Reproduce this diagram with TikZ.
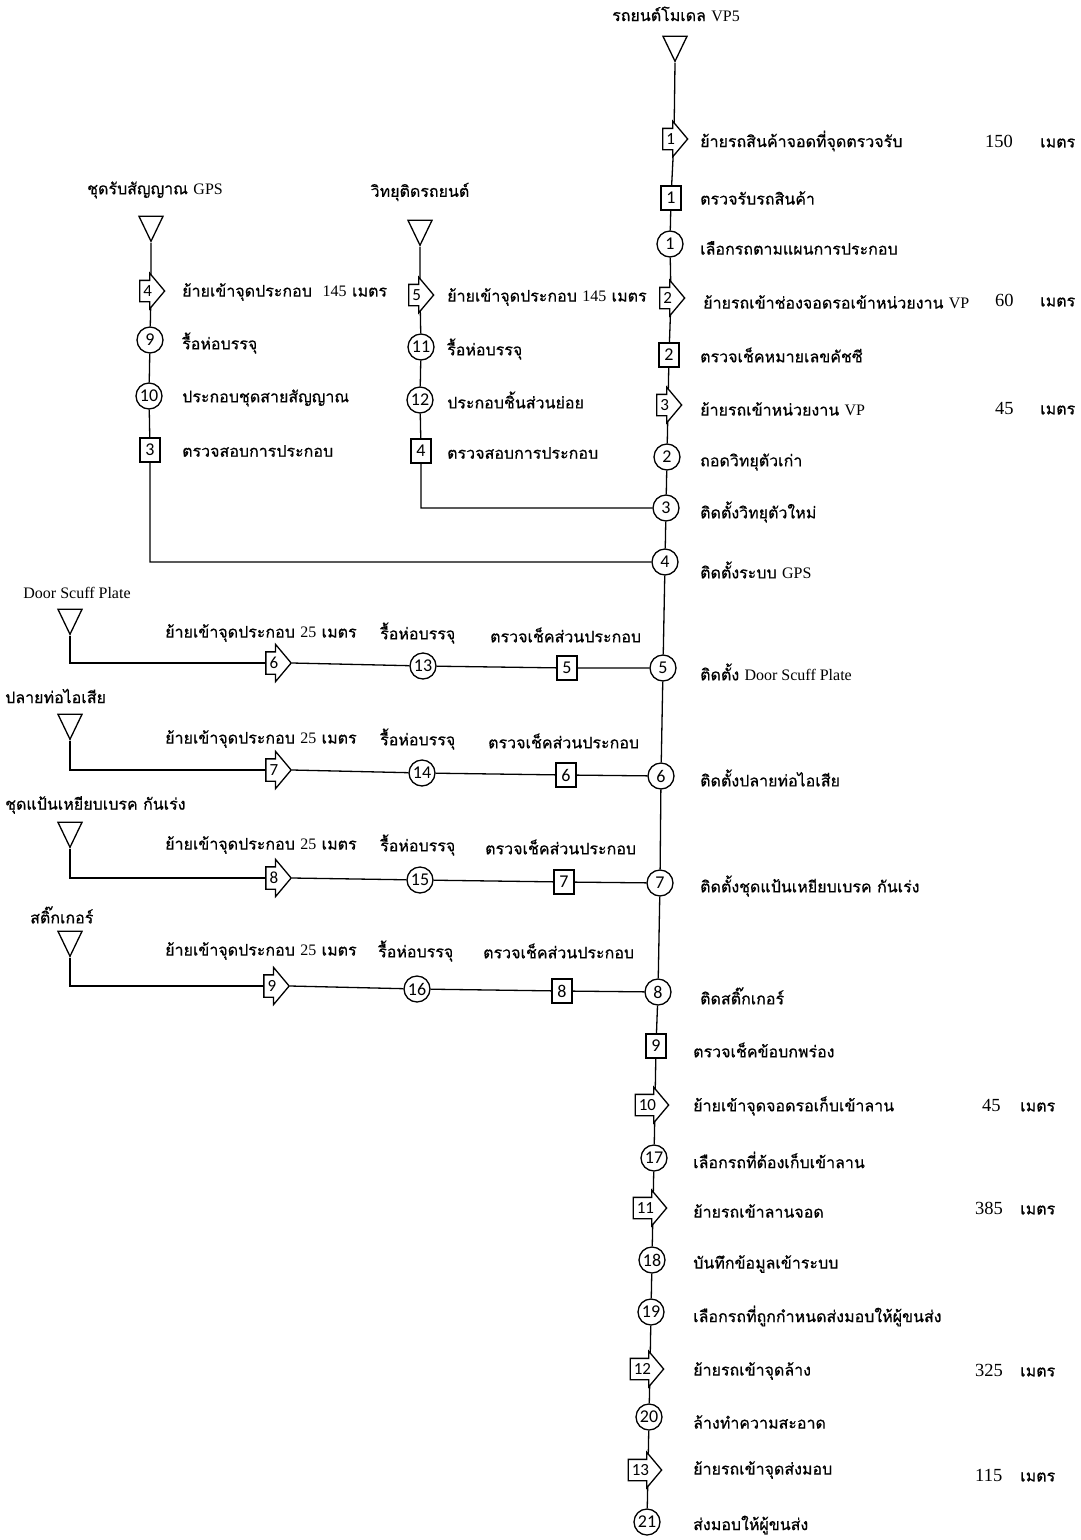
\documentclass[tikz,border=0pt]{standalone}
\usepackage{fontspec}
\setmainfont{Liberation Serif}
\newfontfamily\thfont[Script=Thai,FakeBold=0.6]{Loma}
\newfontfamily\numfont{Carlito}
\usetikzlibrary{shapes.geometric,shapes.arrows,backgrounds}
\newcommand\latn[1]{{\rmfamily #1}}
\begin{document}
\begin{tikzpicture}[x=1pt,y=-1pt,
  ln/.style={line width=1.3pt},
  ops/.style={circle, draw, fill=white, line width=1.3pt, minimum size=26pt, inner sep=0pt, font=\numfont\fontsize{18}{18}\selectfont},
  insp/.style={rectangle, draw, fill=white, line width=1.3pt, minimum width=20pt, minimum height=24pt, inner sep=0pt, font=\numfont\fontsize{18}{18}\selectfont},
  mv/.style={single arrow, draw, fill=white, line width=1.3pt, single arrow head extend=7pt, single arrow tip angle=100, single arrow head indent=0pt, inner xsep=3pt, inner ysep=1pt, text height=14pt, text depth=4pt, font=\numfont\fontsize{17}{17}\selectfont, anchor=tip},
  mvrow/.style={mv, text height=15pt, text depth=4pt, single arrow head extend=7.5pt},
  store/.style={isosceles triangle, isosceles triangle stretches, shape border rotate=-90, draw, line width=1.3pt, minimum width=24pt, minimum height=25pt, inner sep=0pt, anchor=apex},
  lbl/.style={anchor=west, inner sep=0pt, font=\thfont\fontsize{16}{18}\selectfont},
  ttl/.style={inner sep=0pt, font=\thfont\fontsize{16}{18}\selectfont},
  dist/.style={anchor=west, inner sep=0pt, font=\fontsize{18.5}{20}\selectfont},
]
\useasboundingbox (0,0) rectangle (1080,1540);

% ---------- main line ----------
\node[ttl] (vt) at (676,14) {รถยนต์โมเดล \latn{VP5}};
\node[store] (t0) at (675,63) {};
\coordinate (m1) at (674,139);  \node[mv] (a1) at (688.5,139) {1};
\node[insp] (b1) at (671,198) {1};
\node[ops]  (c1) at (670,244) {1};
\coordinate (m2) at (671,298);  \node[mv] (a2) at (685.5,298) {2};
\node[insp] (b2) at (669,355) {2};
\coordinate (m3) at (668,405);  \node[mv] (a3) at (682.5,405) {3};
\node[ops]  (c2) at (667,457) {2};
\node[ops]  (c3) at (666,508) {3};
\node[ops]  (c4) at (665,562) {4};
\node[ops]  (c5) at (663,668) {5};
\node[ops]  (c6) at (661,776) {6};
\node[ops]  (c7) at (660,883) {7};
\node[ops]  (c8) at (658,992) {8};
\node[insp] (b9) at (656,1046) {9};
\coordinate (m10) at (655,1105); \node[mv] (a10) at (669.5,1105) {10};
\node[ops]  (c17) at (654,1158) {17};
\coordinate (m11) at (653,1208); \node[mv] (a11) at (667.5,1208) {11};
\node[ops]  (c18) at (652,1260) {18};
\node[ops]  (c19) at (651,1312) {19};
\coordinate (m12) at (650,1369); \node[mv] (a12) at (664.5,1369) {12};
\node[ops]  (c20) at (649,1417) {20};
\coordinate (m13) at (648,1470); \node[mv] (a13) at (662.5,1470) {13};
\node[ops]  (c21) at (647,1522) {21};

\node[lbl] (la1) at (700,141) {ย้ายรถสินค้าจอดที่จุดตรวจรับ};
\node[lbl] (lb1) at (700,198) {ตรวจรับรถสินค้า};
\node[lbl] (lc1) at (700,248) {เลือกรถตามแผนการประกอบ};
\node[lbl] (la2) at (703,302) {ย้ายรถเข้าช่องจอดรอเข้าหน่วยงาน \latn{VP}};
\node[lbl] (lb2) at (700,355) {ตรวจเช็คหมายเลขคัชซี};
\node[lbl] (la3) at (700,409) {ย้ายรถเข้าหน่วยงาน \latn{VP}};
\node[lbl] (lc2) at (700,462) {ถอดวิทยุตัวเก่า};
\node[lbl] (lc3) at (700,512) {ติดตั้งวิทยุตัวใหม่};
\node[lbl] (lc4) at (700,570) {ติดตั้งระบบ \latn{GPS}};
\node[lbl] (lc5) at (700,672) {ติดตั้ง \latn{Door Scuff Plate}};
\node[lbl] (lc6) at (700,778) {ติดตั้งปลายท่อไอเสีย};
\node[lbl] (lc7) at (700,886) {ติดตั้งชุดแป้นเหยียบเบรค กันเร่ง};
\node[lbl] (lc8) at (700,996) {ติดสติ๊กเกอร์};
\node[lbl] (lb9) at (693,1050) {ตรวจเช็คข้อบกพร่อง};
\node[lbl] (la10) at (693,1106) {ย้ายเข้าจุดจอดรอเก็บเข้าลาน};
\node[lbl] (lc17) at (693,1160) {เลือกรถที่ต้องเก็บเข้าลาน};
\node[lbl] (la11) at (693,1211) {ย้ายรถเข้าลานจอด};
\node[lbl] (lc18) at (693,1264) {บันทึกข้อมูลเข้าระบบ};
\node[lbl] (lc19) at (693,1316) {เลือกรถที่ถูกกำหนดส่งมอบให้ผู้ขนส่ง};
\node[lbl] (la12) at (693,1371) {ย้ายรถเข้าจุดล้าง};
\node[lbl] (lc20) at (693,1422) {ล้างทำความสะอาด};
\node[lbl] (la13) at (693,1470) {ย้ายรถเข้าจุดส่งมอบ};
\node[lbl] (lc21) at (693,1525) {ส่งมอบให้ผู้ขนส่ง};

% distances
\node[dist] (d1) at (985,141) {150};  \node[lbl] (u1) at (1040,143) {เมตร};
\node[dist] (d2) at (995,300) {60};   \node[lbl] (u2) at (1040,302) {เมตร};
\node[dist] (d3) at (995,408) {45};   \node[lbl] (u3) at (1040,410) {เมตร};
\node[dist] (d4) at (982,1105) {45};  \node[lbl] (u4) at (1020,1107) {เมตร};
\node[dist] (d5) at (975,1208) {385}; \node[lbl] (u5) at (1020,1210) {เมตร};
\node[dist] (d6) at (975,1370) {325}; \node[lbl] (u6) at (1020,1372) {เมตร};
\node[dist] (d7) at (975,1475) {115}; \node[lbl] (u7) at (1020,1477) {เมตร};

% ---------- GPS receiver branch ----------
\node[ttl] (gt) at (155,190) {ชุดรับสัญญาณ \latn{GPS}};
\node[store] (tg) at (151,243) {};
\coordinate (m4) at (151,291); \node[mv] (a4) at (165.5,291) {4};
\node[ops]  (c9)  at (150,340) {9};
\node[ops]  (c10) at (149,396) {10};
\node[insp] (b3)  at (150,450) {3};
\node[lbl] at (182,292) {ย้ายเข้าจุดประกอบ \ \latn{145} เมตร};
\node[lbl] at (182,343) {รื้อห่อบรรจุ};
\node[lbl] at (182,398) {ประกอบชุดสายสัญญาณ};
\node[lbl] at (182,451) {ตรวจสอบการประกอบ};

% ---------- car radio branch ----------
\node[ttl] (rt) at (420,192) {วิทยุติดรถยนต์};
\node[store] (tr) at (420,247) {};
\coordinate (m5) at (420,295); \node[mv] (a5) at (434.5,295) {5};
\node[ops]  (c11) at (421,347) {11};
\node[ops]  (c12) at (420,400) {12};
\node[insp] (b4)  at (421,451) {4};
\node[lbl] at (447,297) {ย้ายเข้าจุดประกอบ \latn{145} เมตร};
\node[lbl] at (447,349) {รื้อห่อบรรจุ};
\node[lbl] at (447,400) {ประกอบชิ้นส่วนย่อย};
\node[lbl] at (447,453) {ตรวจสอบการประกอบ};

% ---------- side rows ----------
\node[inner sep=0pt, font=\fontsize{16}{18}\selectfont] (st1) at (77,593) {Door Scuff Plate};
\node[store] (s1) at (70,636) {};
\node[mvrow] (a6) at (292,663) {6};
\node[ops]  (c13) at (423,666) {13};
\node[insp] (b5)  at (567,668) {5};
\node[lbl] at (165,633) {ย้ายเข้าจุดประกอบ \latn{25} เมตร};
\node[lbl] at (380,633) {รื้อห่อบรรจุ};
\node[lbl] at (490,635) {ตรวจเช็คส่วนประกอบ};

\node[lbl] (st2) at (5,696) {ปลายท่อไอเสีย};
\node[store] (s2) at (70,741) {};
\node[mvrow] (a7) at (292,770) {7};
\node[ops]  (c14) at (422,773) {14};
\node[insp] (b6)  at (566,775) {6};
\node[lbl] at (165,739) {ย้ายเข้าจุดประกอบ \latn{25} เมตร};
\node[lbl] at (380,739) {รื้อห่อบรรจุ};
\node[lbl] at (488,741) {ตรวจเช็คส่วนประกอบ};

\node[lbl] (st3) at (5,805) {ชุดแป้นเหยียบเบรค กันเร่ง};
\node[store] (s3) at (70,849) {};
\node[mvrow] (a8) at (292,878) {8};
\node[ops]  (c15) at (420,880) {15};
\node[insp] (b7)  at (564,882) {7};
\node[lbl] at (165,845) {ย้ายเข้าจุดประกอบ \latn{25} เมตร};
\node[lbl] at (380,845) {รื้อห่อบรรจุ};
\node[lbl] at (485,847) {ตรวจเช็คส่วนประกอบ};

\node[lbl] (st4) at (30,915) {สติ๊กเกอร์};
\node[store] (s4) at (70,958) {};
\node[mvrow] (a9) at (290,986) {9};
\node[ops]  (c16) at (417,989) {16};
\node[insp] (b8)  at (562,991) {8};
\node[lbl] at (165,951) {ย้ายเข้าจุดประกอบ \latn{25} เมตร};
\node[lbl] at (378,951) {รื้อห่อบรรจุ};
\node[lbl] at (483,951) {ตรวจเช็คส่วนประกอบ};

% ---------- connectors ----------
\begin{scope}[on background layer]
  \fill[white] (0,0) rectangle (1080,1540);
  \draw[ln] (t0.apex) -- (m1) -- (b1) -- (c1) -- (m2) -- (b2) -- (m3) -- (c2) -- (c3) -- (c4) -- (c5) -- (c6) -- (c7) -- (c8) -- (b9) -- (m10) -- (c17) -- (m11) -- (c18) -- (c19) -- (m12) -- (c20) -- (m13) -- (c21);
  \draw[ln] (tg.apex) -- (m4) -- (c9) -- (c10) -- (b3) |- (c4);
  \draw[ln] (tr.apex) -- (m5) -- (c11) -- (c12) -- (b4) |- (c3);
  \draw[ln] (s1.apex) |- (a6.tail);
  \draw[ln] (a6.tip) -- (c13) -- (b5) -- (c5);
  \draw[ln] (s2.apex) |- (a7.tail);
  \draw[ln] (a7.tip) -- (c14) -- (b6) -- (c6);
  \draw[ln] (s3.apex) |- (a8.tail);
  \draw[ln] (a8.tip) -- (c15) -- (b7) -- (c7);
  \draw[ln] (s4.apex) |- (a9.tail);
  \draw[ln] (a9.tip) -- (c16) -- (b8) -- (c8);
\end{scope}
\end{tikzpicture}
\end{document}
